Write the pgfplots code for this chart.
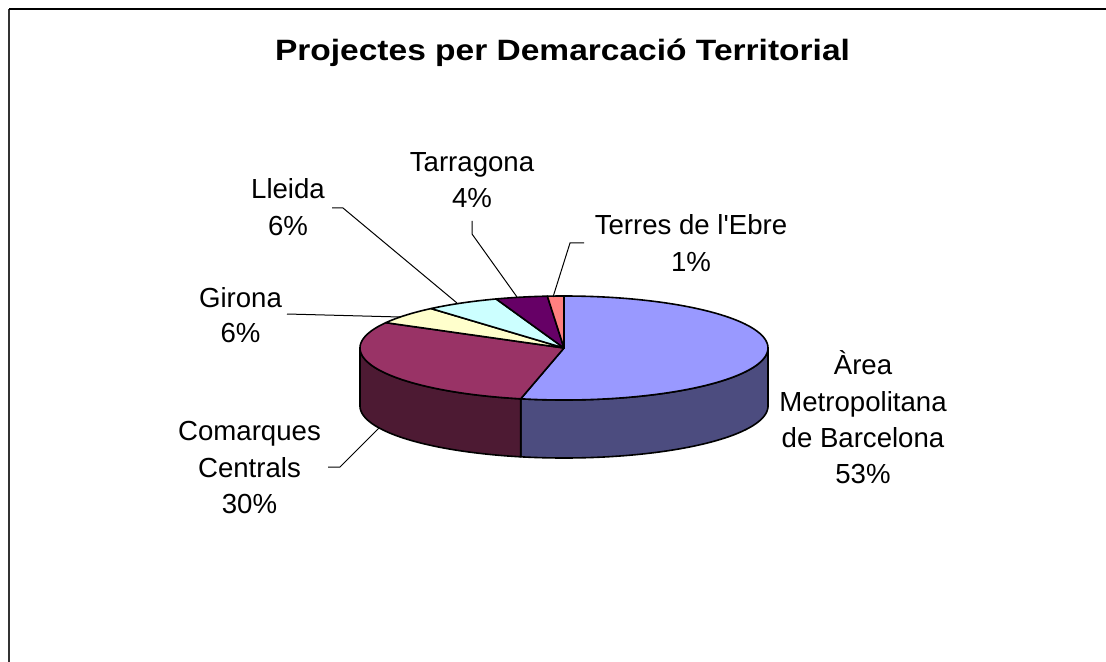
\documentclass[border=0pt]{standalone}
\usepackage{fontspec}
\setmainfont{Liberation Sans}
\newfontfamily\titlefont{Liberation Sans}[FakeStretch=1.14]
\usepackage{pgfplots}
\pgfplotsset{compat=1.18}
\definecolor{amb}{HTML}{9999FF}
\definecolor{ambside}{HTML}{4C4C7F}
\definecolor{com}{HTML}{993366}
\definecolor{comside}{HTML}{4D1A33}
\definecolor{gir}{HTML}{FFFFCC}
\definecolor{lle}{HTML}{CCFFFF}
\definecolor{tar}{HTML}{660066}
\definecolor{ter}{HTML}{FF8080}
\definecolor{frame}{HTML}{333333}

% shares (percent), clockwise from 12 o'clock
\def\vAMB{53.4}\def\vCOM{29.7}\def\vGIR{5.6}\def\vLLE{5.9}\def\vTAR{4.1}\def\vTER{1.3}
\pgfmathsetmacro\aA{90}
\pgfmathsetmacro\aB{\aA-3.6*\vAMB}
\pgfmathsetmacro\aC{\aB-3.6*\vCOM}
\pgfmathsetmacro\aD{\aC-3.6*\vGIR}
\pgfmathsetmacro\aE{\aD-3.6*\vLLE}
\pgfmathsetmacro\aF{\aE-3.6*\vTAR}
\pgfmathsetmacro\aG{\aF-3.6*\vTER}

% pie geometry in pixel units
\def\cx{564}\def\cy{348}\def\rx{204}\def\ry{52}\def\dz{58}

\newcommand\slice[3]{%
  \addplot[fill=#3, draw=black, line width=0.8pt, line join=round,
    domain=#1:#2, samples=90, variable=\t]
    ({\cx+\rx*cos(\t)}, {\cy-\ry*sin(\t)}) -- (axis cs:\cx,\cy) -- cycle;}
\newcommand\side[3]{%
  \addplot[fill=#3, draw=black, line width=0.8pt, line join=round,
    samples at={0,1,...,100,100.001,101,102,...,200}, variable=\s]
    ({\cx+\rx*cos(#1+(#2-#1)*(100-abs(100-\s))/100)},
     {\cy-\ry*sin(#1+(#2-#1)*(100-abs(100-\s))/100)+\dz*(\s>100)}) -- cycle;}

\tikzset{lab/.style={font=\fontsize{13.8}{16}\selectfont, anchor=base, inner sep=0pt}}

\begin{document}
\begin{tikzpicture}
\begin{axis}[hide axis, scale only axis, width=553pt, height=331pt,
  xmin=0, xmax=1106, ymin=0, ymax=662, y dir=reverse, clip=false]

% frame
\addplot[frame, line width=1pt] coordinates {(9,662) (9,9)};
\addplot[black, line width=0.6pt] coordinates {(9,9) (1106,9)};

% sides (front half only)
\side{\aB}{0}{ambside}
\side{-180}{\aB}{comside}

% top faces
\slice{\aB}{\aA}{amb}
\slice{\aC}{\aB}{com}
\slice{\aD}{\aC}{gir}
\slice{\aE}{\aD}{lle}
\slice{\aF}{\aE}{tar}
\slice{\aG}{\aF}{ter}

% leader lines
\addplot[black, line width=0.5pt] coordinates {(332,208) (343,208) (457,303)};
\addplot[black, line width=0.5pt] coordinates {(287,314) (400,317)};
\addplot[black, line width=0.5pt] coordinates {(472,221) (472,234) (517,297)};
\addplot[black, line width=0.5pt] coordinates {(584,243) (570,243) (553,297)};
\addplot[black, line width=0.5pt] coordinates {(328,467) (340,467) (379,428)};

% title
\node[anchor=base, inner sep=0pt, font=\titlefont\bfseries\fontsize{14.7}{17}\selectfont] at (axis cs:562.5,61) {Projectes per Demarcació Territorial};

% labels
\node[lab] at (axis cs:472,172) {Tarragona};
\node[lab] at (axis cs:472,208) {4\%};
\node[lab] at (axis cs:288,199) {Lleida};
\node[lab] at (axis cs:288,236) {6\%};
\node[lab] at (axis cs:240.5,307) {Girona};
\node[lab] at (axis cs:240.5,342) {6\%};
\node[lab] at (axis cs:691,235) {Terres de l\textquotesingle Ebre};
\node[lab] at (axis cs:691,271) {1\%};
\node[lab] at (axis cs:863,374) {Àrea};
\node[lab] at (axis cs:863,411) {Metropolitana};
\node[lab] at (axis cs:863,447) {de Barcelona};
\node[lab] at (axis cs:863,483) {53\%};
\node[lab] at (axis cs:249.5,440) {Comarques};
\node[lab] at (axis cs:249.5,477) {Centrals};
\node[lab] at (axis cs:249.5,513) {30\%};
\end{axis}
\pgfresetboundingbox
\path (current axis.south west) rectangle (current axis.north east);
\end{tikzpicture}
\end{document}
